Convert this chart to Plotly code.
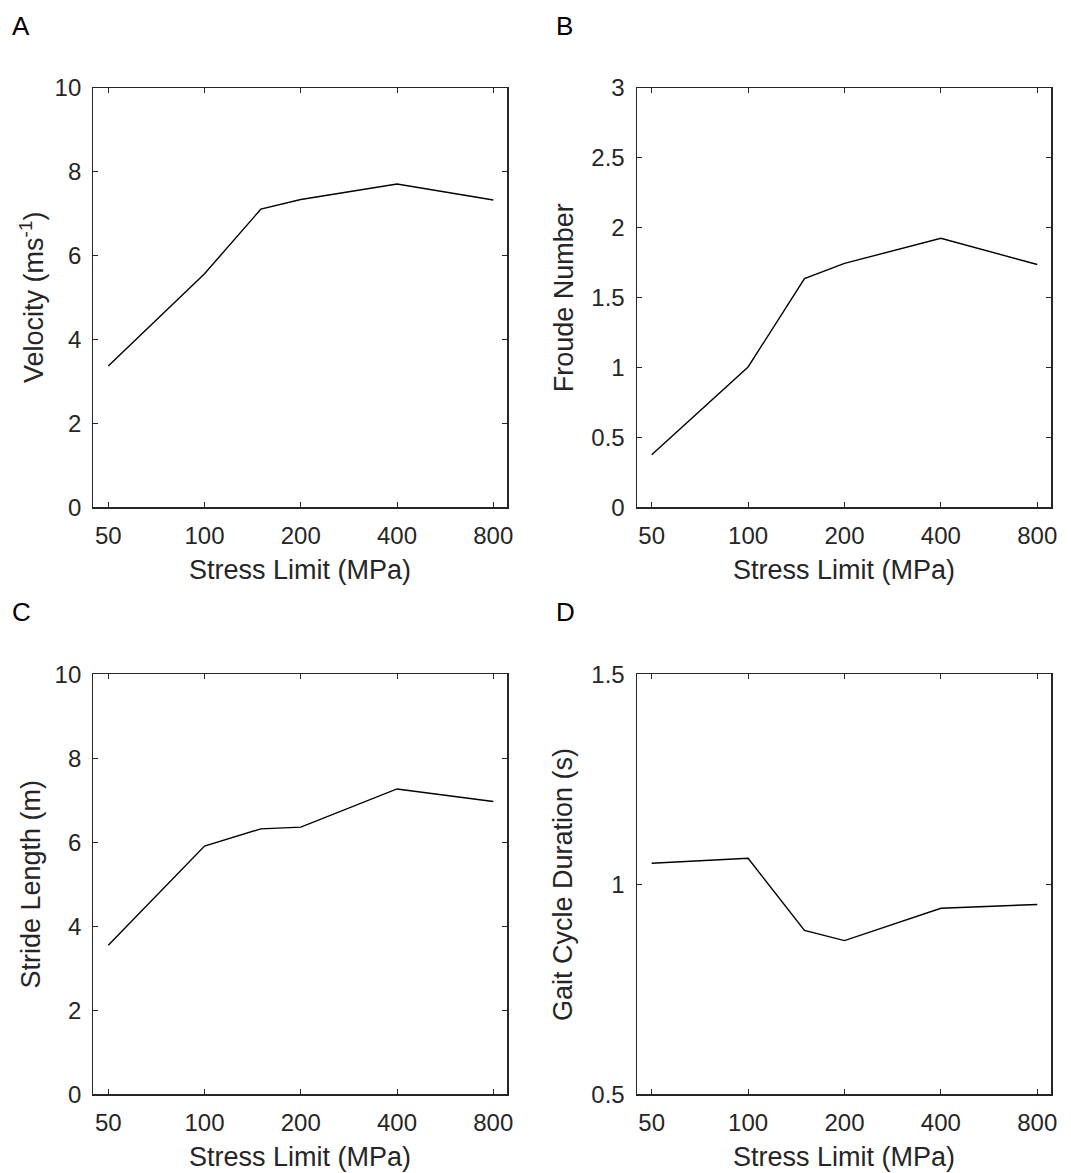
import plotly.graph_objects as go

# ---- data ----
stress_limit = [50, 100, 150, 200, 400, 800]
velocity = [3.37, 5.57, 7.11, 7.34, 7.71, 7.33]
froude = [0.376, 1.004, 1.636, 1.745, 1.925, 1.737]
stride_length = [3.55, 5.91, 6.32, 6.36, 7.27, 6.97]
gait_cycle = [1.050, 1.062, 0.890, 0.866, 0.943, 0.952]

x_ticks = [50, 100, 200, 400, 800]
x_ticklabels = ["50", "100", "200", "400", "800"]

yticks_A = [0, 2, 4, 6, 8, 10]
yticks_B = [0, 0.5, 1, 1.5, 2, 2.5, 3]
yticklabels_B = ["0", "0.5", "1", "1.5", "2", "2.5", "3"]
yticks_C = [0, 2, 4, 6, 8, 10]
yticks_D = [0.5, 1, 1.5]
yticklabels_D = ["0.5", "1", "1.5"]

panel_letters = ["A", "B", "C", "D"]
y_titles = ["Velocity (ms<sup>-1</sup>)", "Froude Number", "Stride Length (m)", "Gait Cycle Duration (s)"]
x_title = "Stress Limit (MPa)"

W, H = 1071, 1173
FONT = "Liberation Sans, Arial, Helvetica, sans-serif"
AX_COLOR = "#262626"

# panel frames in page pixels (left, right, top, bottom)
frames = [
    (93.3, 507.3, 88, 507.3),
    (636.7, 1051.3, 88, 507.3),
    (93.3, 507.3, 674.3, 1094.3),
    (636.7, 1051.3, 674.3, 1094.3),
]
series = [velocity, froude, stride_length, gait_cycle]
yranges = [[0, 10], [0, 3], [0, 10], [0.5, 1.5]]
ytickvals = [yticks_A, yticks_B, yticks_C, yticks_D]
yticktexts = [[str(v) for v in yticks_A], yticklabels_B, [str(v) for v in yticks_C], yticklabels_D]
xrange_log = [1.6521, 2.9469]


def px(x):
    return x / W


def py(y):
    return 1 - y / H


fig = go.Figure()
annotations = []

for i in range(4):
    l, r, t, b = frames[i]
    xa = "xaxis" if i == 0 else f"xaxis{i+1}"
    ya = "yaxis" if i == 0 else f"yaxis{i+1}"
    xref = "x" if i == 0 else f"x{i+1}"
    yref = "y" if i == 0 else f"y{i+1}"
    fig.add_trace(go.Scatter(
        x=stress_limit, y=series[i], mode="lines",
        line=dict(color="black", width=1.4),
        xaxis=xref, yaxis=yref, showlegend=False,
    ))
    common = dict(
        showline=True, linecolor=AX_COLOR, linewidth=1.2, mirror="ticks",
        ticks="inside", ticklen=5, tickwidth=1, tickcolor=AX_COLOR,
        showgrid=False, zeroline=False, automargin=False,
        tickfont=dict(family=FONT, size=24, color=AX_COLOR),
    )
    fig.update_layout({
        xa: dict(
            type="log", range=xrange_log, domain=[px(l), px(r)],
            tickvals=x_ticks, ticktext=x_ticklabels,
            anchor=yref, ticklabelstandoff=7, **common,
        ),
        ya: dict(
            range=yranges[i], domain=[py(b), py(t)],
            tickvals=ytickvals[i], ticktext=yticktexts[i],
            anchor=xref, ticklabelstandoff=6, **common,
        ),
    })
    # panel letter
    annotations.append(dict(
        text=panel_letters[i], x=px(l - 83), y=py(t - 62),
        xref="paper", yref="paper", xanchor="left", yanchor="middle",
        showarrow=False, font=dict(family=FONT, size=26, color="black"),
    ))
    # x title
    annotations.append(dict(
        text=x_title, x=px((l + r) / 2), y=py(b + 63),
        xref="paper", yref="paper", xanchor="center", yanchor="middle",
        showarrow=False, font=dict(family=FONT, size=27, color=AX_COLOR),
    ))
    # y title
    yoff = 62 if i in (0, 2) else 73
    annotations.append(dict(
        text=y_titles[i], x=px(l - yoff), y=py((t + b) / 2),
        xref="paper", yref="paper", xanchor="center", yanchor="middle",
        textangle=-90, showarrow=False,
        font=dict(family=FONT, size=27, color=AX_COLOR),
    ))

fig.update_layout(
    template="none",
    width=W, height=H,
    margin=dict(l=0, r=0, t=0, b=0, autoexpand=False),
    paper_bgcolor="white", plot_bgcolor="white",
    annotations=annotations,
    font=dict(family=FONT, color=AX_COLOR),
)

fig.write_html(
    "out.html",
    config={"displayModeBar": False, "staticPlot": True},
    post_script="document.body.style.margin='0';document.body.style.overflow='hidden';",
)
